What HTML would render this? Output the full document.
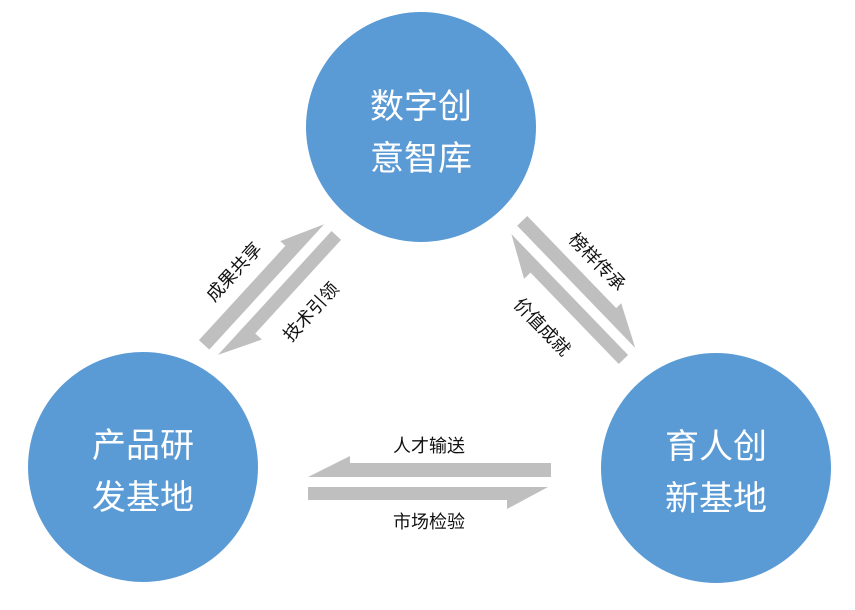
<!DOCTYPE html>
<html><head><meta charset="utf-8"><style>
html,body{margin:0;padding:0;background:#fff;}
svg{display:block;font-family:"Liberation Sans","Noto Sans CJK SC",sans-serif;}
</style></head><body>
<svg width="855" height="610" viewBox="0 0 855 610" xmlns="http://www.w3.org/2000/svg">
<defs>
<g id="pairS" fill="#bfbfbf">
<polygon points="85,-18.5 -43,-18.5 -43,-25.5 -85,-4.5 85,-4.5"/>
<polygon points="-85,5.5 83,5.5 42,27.5 42,18.5 -85,18.5"/>
</g>
</defs>
<circle cx="421" cy="127" r="115" fill="#5b9bd5"/>
<circle cx="143" cy="467" r="115" fill="#5b9bd5"/>
<circle cx="716" cy="468" r="115" fill="#5b9bd5"/>
<g fill="#fff" font-size="34" text-anchor="middle">
<text x="421" y="118">数字创</text><text x="421" y="170">意智库</text>
<text x="143" y="457">产品研</text><text x="143" y="509">发基地</text>
<text x="716" y="458">育人创</text><text x="716" y="510">新基地</text>
</g>
<g fill="#bfbfbf">
<polygon points="551,463 350,463 350,456 308,477 551,477"/>
<polygon points="308,487 548,487 507,509 507,500 308,500"/>
</g>
<use href="#pairS" transform="translate(270,290) rotate(-47.5) scale(-1,1)"/>
<use href="#pairS" transform="translate(573,290) rotate(46) scale(-1,1)"/>
<g fill="#111" font-size="18" text-anchor="middle">
<text x="429" y="452">人才输送</text>
<text x="429" y="528">市场检验</text>
<text transform="translate(234,272) rotate(-47.5)" y="6">成果共享</text>
<text transform="translate(311,312) rotate(-47.5)" y="6">技术引领</text>
<text transform="translate(597,262) rotate(46)" y="6">榜样传承</text>
<text transform="translate(542,327) rotate(46)" y="6">价值成就</text>
</g>
</svg>
</body></html>
